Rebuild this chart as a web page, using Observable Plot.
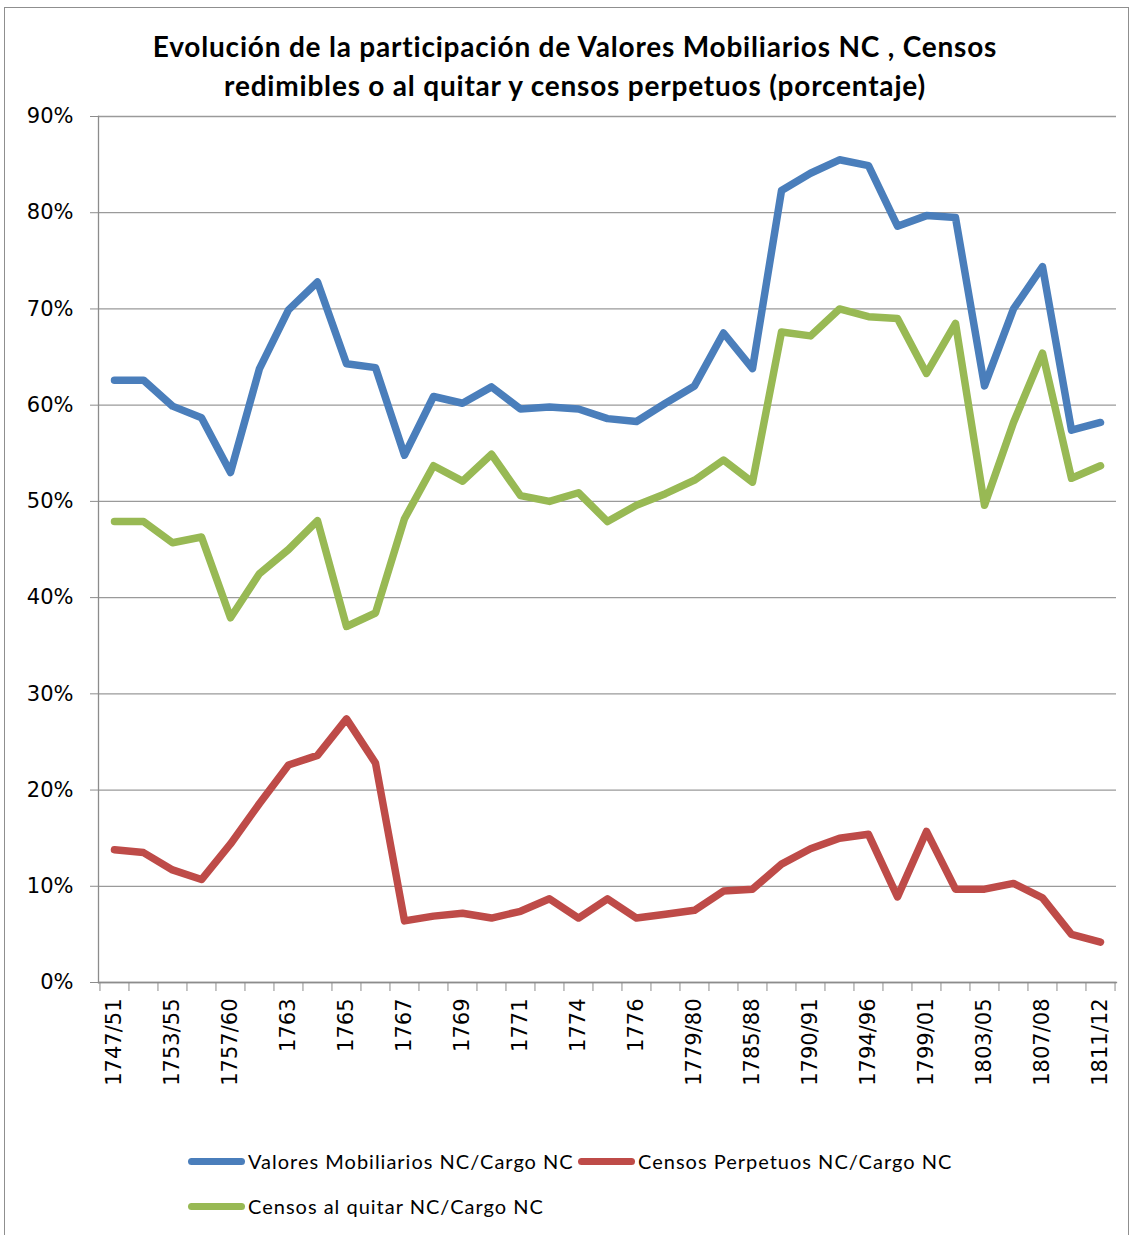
<!DOCTYPE html>
<html>
<head>
<meta charset="utf-8">
<script src="https://cdn.jsdelivr.net/npm/d3@7"></script>
<script src="https://cdn.jsdelivr.net/npm/@observablehq/plot@0.6"></script>
<style>
  body { margin: 0; background: #fff; }
  #frame { position: absolute; left: 4px; top: 7px; width: 1125px; height: 1260px; border: 1.5px solid #8f8f8f; box-sizing: border-box; }
  #title { position: absolute; left: 0; top: 27px; width: 1150px; text-align: center; font: bold 28px Lato, "Open Sans", sans-serif; letter-spacing: 0.8px; line-height: 39px; color: #000; }
  #chart { position: absolute; left: 0; top: 100px; }
  .leg { position: absolute; display: flex; align-items: center; font: 20px Lato, "Open Sans", sans-serif; letter-spacing: 1px; color: #000; white-space: nowrap; }
  .sw { display: inline-block; width: 57px; height: 7px; border-radius: 4px; margin-right: 3px; }
</style>
</head>
<body>
<div id="frame"></div>
<div id="title">Evolución de la participación de Valores Mobiliarios NC , Censos<br>redimibles o al quitar y censos perpetuos (porcentaje)</div>
<div id="chart"></div>
<div id="legend"></div>
<script>
// Periods (every other one is labelled on the axis)
const periods = ["1747/51","1751/53","1753/55","1755/57","1757/60","1761/62","1763","1764","1765","1766",
  "1767","1768","1769","1770","1771","1772/73","1774","1775","1776","1777/78",
  "1779/80","1781/84","1785/88","1788/89","1790/91","1792/93","1794/96","1797/98","1799/01","1801/02",
  "1803/05","1806","1807/08","1809/10","1811/12"];
const labelledPeriods = periods.filter((d, i) => i % 2 === 0);

const seriesNames = [
  "Valores Mobiliarios NC/Cargo NC",
  "Censos Perpetuos NC/Cargo NC",
  "Censos al quitar NC/Cargo NC"
];
const seriesColors = ["#4a7ebb", "#be4b48", "#98b954"];

// Shares, in percent
const valoresMobiliarios = [62.6,62.6,59.9,58.7,53.0,63.8,69.9,72.8,64.3,63.9,
  54.8,60.9,60.2,61.9,59.6,59.8,59.6,58.6,58.3,60.2,
  62.0,67.5,63.8,82.3,84.1,85.5,84.9,78.6,79.7,79.5,
  62.0,70.0,74.4,57.4,58.2];
const censosPerpetuos = [13.8,13.5,11.7,10.7,14.4,18.6,22.6,23.6,27.4,22.8,
  6.4,6.9,7.2,6.7,7.4,8.7,6.7,8.7,6.7,7.1,
  7.5,9.5,9.7,12.3,13.9,15.0,15.4,8.9,15.7,9.7,
  9.7,10.3,8.8,5.0,4.2];
const censosAlQuitar = [47.9,47.9,45.7,46.3,37.9,42.5,45.0,48.0,37.0,38.4,
  48.2,53.7,52.1,54.9,50.6,50.0,50.9,47.9,49.6,50.8,
  52.2,54.3,52.0,67.6,67.2,70.0,69.2,69.0,63.3,68.5,
  49.6,58.2,65.4,52.4,53.7];

const yTicks = [0,0.1,0.2,0.3,0.4,0.5,0.6,0.7,0.8,0.9];

const rows = [];
[valoresMobiliarios, censosPerpetuos, censosAlQuitar].forEach((vals, s) => {
  vals.forEach((v, i) => rows.push({series: seriesNames[s], period: periods[i], value: v / 100}));
});

const W = 1132, mL = 98, mR = 16;
const step = (W - mL - mR) / periods.length;
const axisGray = "#8c8c8c";

const chart = Plot.plot({
  width: W,
  height: 1015,
  marginLeft: mL,
  marginRight: mR,
  marginTop: 16,
  marginBottom: 133,
  style: {fontFamily: "'DejaVu Sans', Verdana, sans-serif", fontSize: "21px", color: "#000", background: "transparent"},
  x: {type: "point", domain: periods, padding: 0.5, label: null},
  y: {domain: [0, 0.9], label: null},
  color: {domain: seriesNames, range: seriesColors},
  marks: [
    Plot.gridY({ticks: yTicks, stroke: "#9a9a9a", strokeOpacity: 1, strokeWidth: 1.3}),
    Plot.frame({anchor: "left", stroke: axisGray, strokeWidth: 1.3}),
    Plot.frame({anchor: "bottom", stroke: axisGray, strokeWidth: 1.3}),
    Plot.axisY({ticks: yTicks, tickFormat: d3.format(".0%"), tickSize: 8, tickPadding: 17, stroke: axisGray, fontSize: 21}),
    // tick marks between categories
    Plot.axisX({ticks: periods, tickSize: 9, tickFormat: () => "", fill: "none", dx: -step / 2, stroke: axisGray}),
    Plot.axisX({ticks: [periods[periods.length - 1]], tickSize: 9, tickFormat: () => "", fill: "none", dx: step / 2, stroke: axisGray}),
    // period labels
    Plot.axisX({ticks: labelledPeriods, tickSize: 0, tickPadding: 16, tickRotate: -90, fontSize: 21, style: {letterSpacing: "0.5px"}}),
    Plot.lineY(rows, {x: "period", y: "value", z: "series", stroke: "series",
      strokeWidth: 7.5, strokeLinejoin: "round", strokeLinecap: "round"})
  ]
});
document.getElementById("chart").appendChild(chart);

// Legend
const legendPos = [[188, 1161], [578, 1161], [188, 1206]];
const legend = document.getElementById("legend");
seriesNames.forEach((name, i) => {
  const item = document.createElement("div");
  item.className = "leg";
  item.style.left = legendPos[i][0] + "px";
  item.style.top = (legendPos[i][1] - 13) + "px";
  item.style.height = "26px";
  const sw = document.createElement("span");
  sw.className = "sw";
  sw.style.background = seriesColors[i];
  item.appendChild(sw);
  item.appendChild(document.createTextNode(name));
  legend.appendChild(item);
});
</script>
</body>
</html>
